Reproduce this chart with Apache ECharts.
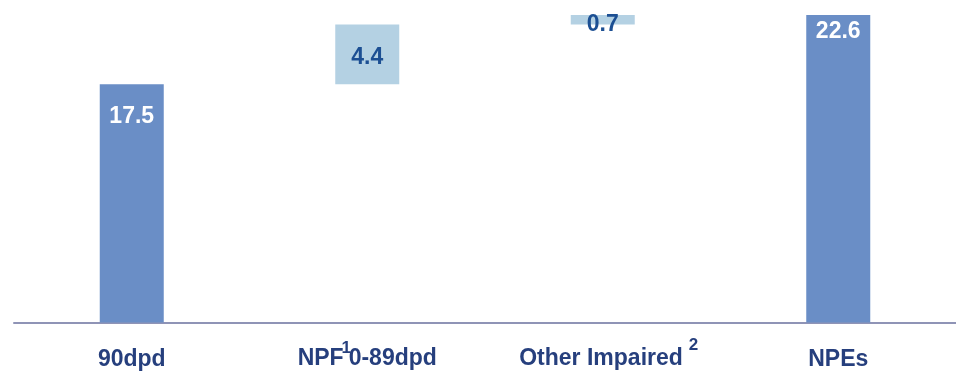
<!DOCTYPE html>
<html>
<head>
<meta charset="utf-8">
<script src="https://cdn.jsdelivr.net/npm/echarts@6/dist/echarts.min.js"></script>
<style>
  html, body { margin: 0; padding: 0; background: #ffffff; }
  #chart { width: 956px; height: 371px; }
</style>
</head>
<body>
<div id="chart"></div>
<script>
// Bridge from 90dpd exposures to total NPEs
const categories = ['90dpd', 'NPF0-89dpd', 'Other Impaired', 'NPEs'];
const values = [17.5, 4.4, 0.7, 22.6];
// 'total' bars stand on the axis, 'step' bars float on the running sum
const kinds = ['total', 'step', 'step', 'total'];

// Invisible base under each floating step
const bases = [];
let running = 0;
values.forEach((v, i) => {
  if (kinds[i] === 'total') { bases.push(0); running = v; }
  else { bases.push(running); running += v; }
});

const darkBar = '#6a8ec6';
const lightBar = '#b4d1e3';
const axisText = '#263f7d';
const fontFamily = 'Liberation Sans, Arial, sans-serif';

// Per-bar label placement
const labelStyles = [
  { position: 'insideTop', distance: 21, color: '#ffffff' },
  { position: 'inside', offset: [0, 3], color: '#1c4f93' },
  { position: 'inside', offset: [0, 5], color: '#1c4f93' },
  { position: 'insideTop', distance: 5, color: '#ffffff' }
];

const labelBase = { fontFamily: fontFamily, fontWeight: 'bold', color: axisText };

const chart = echarts.init(document.getElementById('chart'));
chart.setOption({
  animation: false,
  grid: { left: 14, right: -6, top: 0, bottom: 46 },
  xAxis: {
    type: 'category',
    data: categories,
    axisLine: { lineStyle: { color: '#8f94b6', width: 2 } },
    axisTick: { show: false },
    axisLabel: {
      interval: 0,
      hideOverlap: false,
      margin: 10,
      color: axisText,
      fontFamily: fontFamily,
      fontWeight: 'bold',
      fontSize: 23,
      formatter: function (name) {
        if (name === 'NPF0-89dpd') return '{t|NPF}{s1|1}{t|0-89dpd}';
        if (name === 'Other Impaired') return '{tl|Other Impaired}{s2|2}';
        return '{p|' + name + '}';
      },
      rich: {
        // plain label on its own line box
        p: Object.assign({ fontSize: 23, lineHeight: 54 }, labelBase),
        // main text next to a superscript
        t: Object.assign({ fontSize: 23, lineHeight: 28, verticalAlign: 'bottom' }, labelBase),
        tl: Object.assign({ fontSize: 23, lineHeight: 28, verticalAlign: 'bottom', padding: [0, 0, 0, 12] }, labelBase),
        // footnote markers
        s1: Object.assign({ fontSize: 17, lineHeight: 38, verticalAlign: 'top', width: 5, padding: [7, 0, 0, 0] }, labelBase),
        s2: Object.assign({ fontSize: 17, lineHeight: 38, verticalAlign: 'top', padding: [4, 0, 0, 6] }, labelBase)
      }
    }
  },
  yAxis: {
    type: 'value',
    min: 0,
    max: 23.7,
    show: false,
    splitLine: { show: false }
  },
  series: [
    {
      type: 'bar',
      stack: 'bridge',
      barWidth: 64,
      silent: true,
      itemStyle: { color: 'transparent' },
      data: bases
    },
    {
      type: 'bar',
      stack: 'bridge',
      barWidth: 64,
      data: values.map((v, i) => ({
        value: v,
        itemStyle: { color: kinds[i] === 'total' ? darkBar : lightBar },
        label: labelStyles[i]
      })),
      label: {
        show: true,
        fontFamily: fontFamily,
        fontWeight: 'bold',
        fontSize: 23,
        formatter: (p) => p.value.toFixed(1)
      }
    }
  ]
});
</script>
</body>
</html>
